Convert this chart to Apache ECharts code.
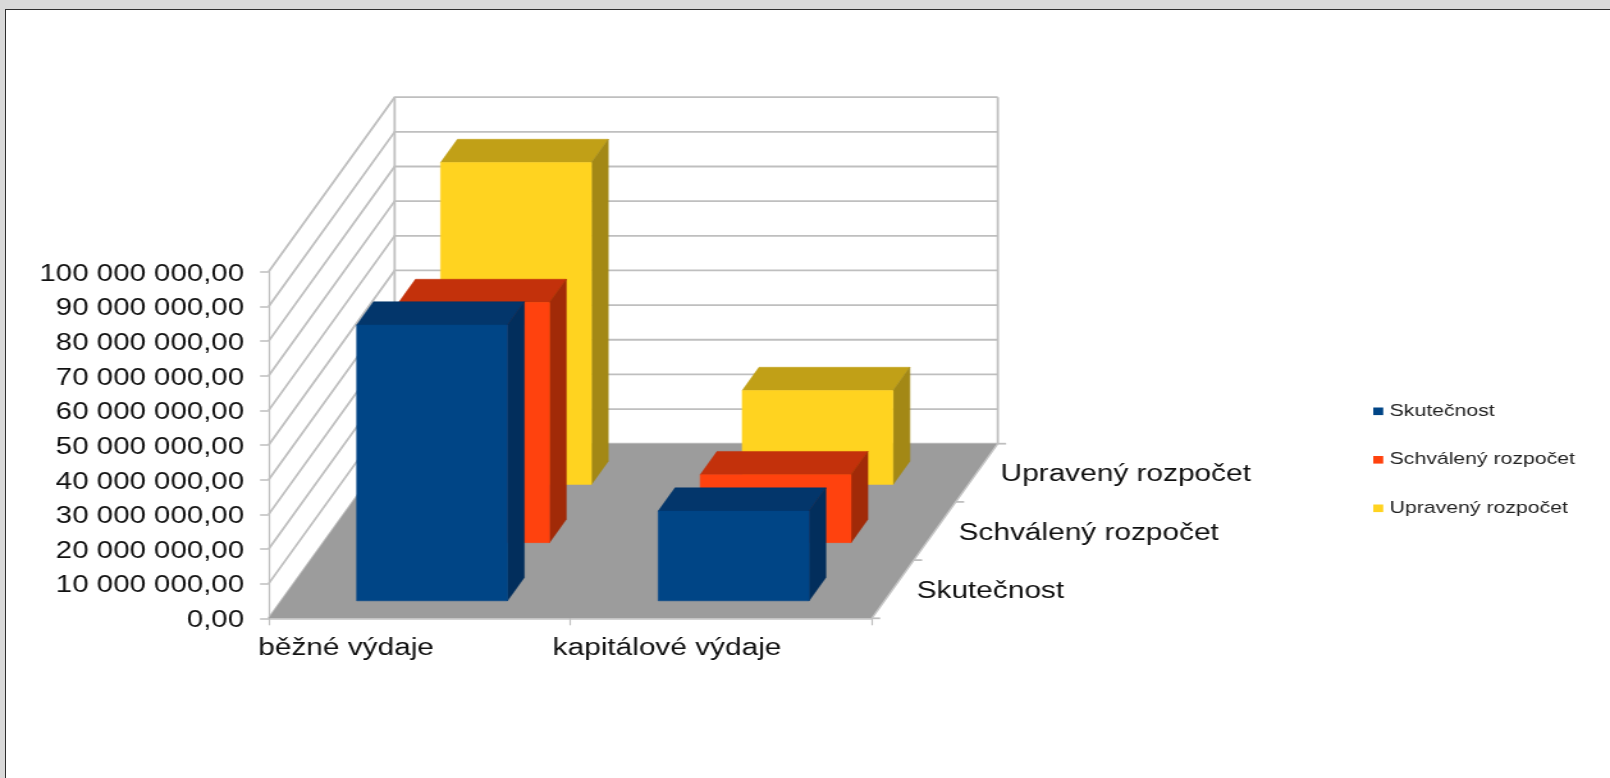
<!DOCTYPE html>
<html>
<head>
<meta charset="utf-8">
<style>
html,body{margin:0;padding:0;width:1610px;height:778px;overflow:hidden;background:#d9d9d9;}
#page{position:absolute;left:5px;top:9px;right:0;bottom:0;background:#fff;border-left:1.5px solid #2e2e2e;border-top:1.5px solid #2e2e2e;}
#chart{position:absolute;left:0;top:0;width:1258px;height:778px;transform-origin:0 0;transform:scaleX(1.27981);}
</style>
</head>
<body>
<div id="page"></div>
<div id="chart"></div>
<script src="https://cdn.jsdelivr.net/npm/echarts@6/dist/echarts.min.js"></script>
<script>
const categories = ['běžné výdaje', 'kapitálové výdaje'];
const seriesNames = ['Skutečnost', 'Schválený rozpočet', 'Upravený rozpočet'];
const skutecnost = [79600000, 25900000];
const schvaleny = [69300000, 19600000];
const upraveny = [92900000, 27100000];
const seriesValues = [skutecnost, schvaleny, upraveny];
const yTicks = [0, 10000000, 20000000, 30000000, 40000000, 50000000, 60000000, 70000000, 80000000, 90000000, 100000000];

const frontColors = ['#004586', '#ff420e', '#ffd320'];
const topColors = ['#03366b', '#c3310b', '#c1a017'];
const sideColors = ['#022e5c', '#a12a08', '#a38815'];
const wallColor = '#bfbfbf';
const floorColor = '#9c9c9c';
const K = 1610 / 1258;
const depthStepX = 42 / K;
const depthStepY = 58.2;
const depthCount = seriesNames.length;

function formatMoney(v) {
  const parts = v.toFixed(2).split('.');
  return parts[0].replace(/\B(?=(\d{3})+(?!\d))/g, ' ') + ',' + parts[1];
}
// project (x in category bands, depth in series slots, value) to pixels
function projector(api) {
  const band = api.size([1, 0])[0];
  return function (xf, d, v) {
    const p = api.coord([0, v]);
    return [p[0] + (xf - 0.5) * band + d * depthStepX, p[1] - d * depthStepY];
  };
}
const lineStyle = { stroke: wallColor, lineWidth: 1.8, fill: null };

function renderWallLine(params, api) {
  const P = projector(api);
  const v = api.value(1);
  return {
    type: 'polyline',
    shape: { points: [P(0, 0, v), P(0, depthCount, v), P(categories.length, depthCount, v)] },
    style: lineStyle
  };
}
function renderFrame(params, api) {
  const P = projector(api);
  const n = categories.length, max = yTicks[yTicks.length - 1];
  const children = [
    { type: 'polygon', shape: { points: [P(0, 0, 0), P(n, 0, 0), P(n, depthCount, 0), P(0, depthCount, 0)] },
      style: { fill: floorColor } },
    { type: 'line', shape: { x1: P(0, depthCount, 0)[0], y1: P(0, depthCount, 0)[1], x2: P(0, depthCount, max)[0], y2: P(0, depthCount, max)[1] }, style: lineStyle },
    { type: 'line', shape: { x1: P(n, depthCount, 0)[0], y1: P(n, depthCount, 0)[1], x2: P(n, depthCount, max)[0], y2: P(n, depthCount, max)[1] }, style: lineStyle },
    { type: 'line', shape: { x1: P(n, 0, 0)[0], y1: P(n, 0, 0)[1], x2: P(n, depthCount, 0)[0], y2: P(n, depthCount, 0)[1] }, style: { stroke: '#c4c4c4', lineWidth: 1.5 } }
  ];
  for (let d = 0; d <= depthCount; d++) {
    const a = P(n, d, 0);
    children.push({ type: 'line', shape: { x1: a[0], y1: a[1], x2: a[0] + 6.5, y2: a[1] }, style: lineStyle });
  }
  seriesNames.forEach(function (name, d) {
    const a = P(n, d + 0.5, 0);
    children.push({ type: 'text', x: a[0] + 18.6, y: a[1] + 2.2,
      style: { text: name, fontFamily: 'Liberation Sans', fontSize: 23.3, fill: '#111', align: 'left', verticalAlign: 'middle' } });
  });
  return { type: 'group', children: children };
}
function barRenderer(d) {
  return function (params, api) {
    const P = projector(api);
    const c = api.value(0), v = api.value(1);
    const l = c + 0.25, r = c + 0.75, f = d + 0.3, b = d + 0.7;
    const poly = function (pts, fill) {
      return { type: 'polygon', shape: { points: pts }, style: { fill: fill, stroke: fill, lineWidth: 0.5 } };
    };
    return { type: 'group', children: [
      poly([P(l, f, v), P(r, f, v), P(r, b, v), P(l, b, v)], topColors[d]),
      poly([P(r, f, 0), P(r, b, 0), P(r, b, v), P(r, f, v)], sideColors[d]),
      poly([P(l, f, 0), P(r, f, 0), P(r, f, v), P(l, f, v)], frontColors[d])
    ] };
  };
}

const barSeries = seriesNames.map(function (name, d) {
  return {
    type: 'custom', name: name, renderItem: barRenderer(d), clip: false, z: 10 + depthCount - d,
    itemStyle: { color: frontColors[d] },
    encode: { x: 0, y: 1 },
    data: seriesValues[d].map(function (v, i) { return [i, v]; })
  };
});

const chart = echarts.init(document.getElementById('chart'), null, { renderer: 'canvas' });
const rich = {};
const labelShift = [114.7, 84.4];
categories.forEach(function (c, i) {
  rich['c' + i] = { fontFamily: 'Liberation Sans', fontSize: 23.3, color: '#111', padding: [0, labelShift[i], 0, 0] };
});
chart.setOption({
  animation: false,
  backgroundColor: 'transparent',
  grid: { left: 209.9, top: 271.8, width: 471.3, height: 346.5, containLabel: false },
  legend: {
    orient: 'vertical', left: 1073, top: 402.8, padding: 0, data: seriesNames, icon: 'rect',
    itemWidth: 7.8, itemHeight: 7.6, itemGap: 31.5, selectedMode: false,
    textStyle: { fontFamily: 'Liberation Sans', fontSize: 16.6, color: '#222' }
  },
  tooltip: { show: false },
  xAxis: {
    type: 'category', data: categories, boundaryGap: true,
    axisLine: { lineStyle: { color: '#c4c4c4', width: 1.5 } },
    axisTick: { show: true, length: 7, lineStyle: { color: wallColor, width: 1.2 } },
    axisLabel: { interval: 0, margin: 19, formatter: function (v, i) { return '{c' + i + '|' + v + '}'; }, rich: rich }
  },
  yAxis: {
    type: 'value', min: 0, max: 100000000, interval: 10000000,
    splitLine: { show: false },
    axisLine: { show: true, lineStyle: { color: wallColor, width: 1.3 } },
    axisTick: { show: true, length: 6.7, lineStyle: { color: wallColor, width: 1.5 } },
    axisLabel: { margin: 19.2, formatter: function (v) { return '{t|' + formatMoney(v) + '}'; },
      rich: { t: { fontFamily: 'Liberation Sans', fontSize: 23, color: '#111', padding: [5, 0, 0, 0] } } }
  },
  series: [
    { type: 'custom', name: 'walls', renderItem: renderWallLine, clip: false, silent: true, z: 1,
      encode: { x: 0, y: 1 }, data: yTicks.map(function (v) { return [0, v]; }) },
    { type: 'custom', name: 'floor', renderItem: renderFrame, clip: false, silent: true, z: 2,
      encode: { x: 0, y: 1 }, data: [[0, 0]] }
  ].concat(barSeries)
});
</script>
</body>
</html>
